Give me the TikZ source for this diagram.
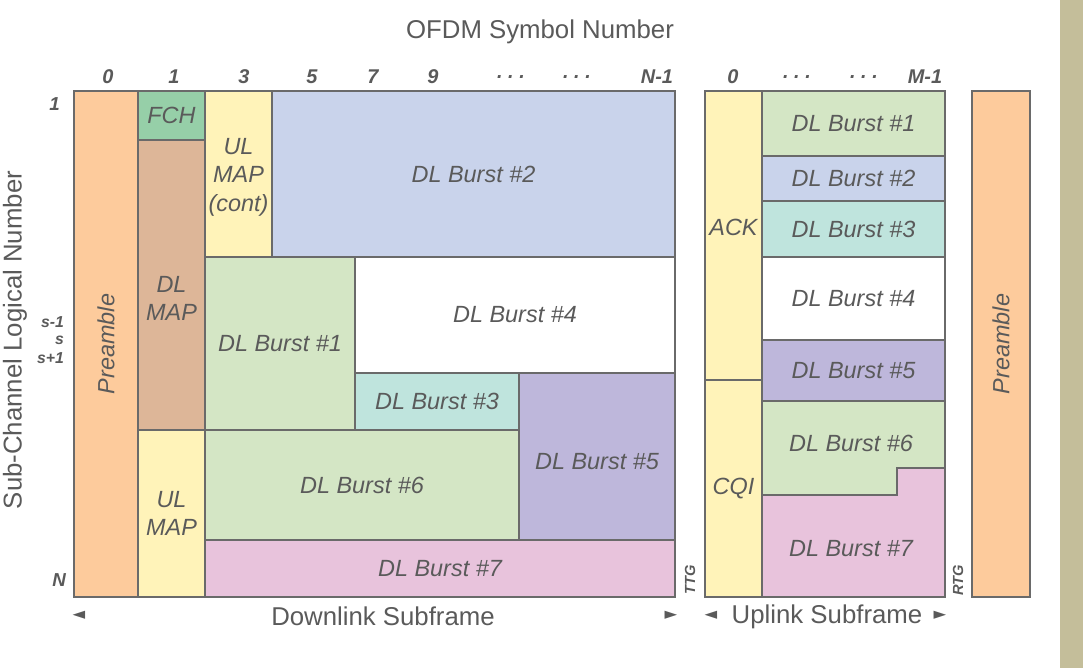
\documentclass[tikz,border=0pt]{standalone}
\usepackage{fontspec}
\setmainfont{Liberation Sans}
\newfontfamily\symfont{DejaVu Sans}
\begin{document}
\begin{tikzpicture}[x=0.03cm, y=-0.03cm,
    cell/.style={draw=framegray, line width=1.2pt},
    lbl/.style={font=\fontsize{20}{24}\selectfont\itshape, text=txtgray, align=center},
    idx/.style={font=\fontsize{17}{18}\selectfont\bfseries\itshape, text=txtgray},
    sub/.style={font=\fontsize{13.5}{14}\selectfont\bfseries\itshape, text=txtgray, anchor=east},
    gap/.style={font=\fontsize{12.5}{12}\selectfont\bfseries\itshape, text=txtgray, rotate=90},
    head/.style={font=\fontsize{22}{24}\selectfont, text=txtgray},
    tip/.style={font=\fontsize{14}{14}\selectfont\symfont, text=txtgray}]
        \definecolor{framegray}{HTML}{6A6A6A}
        \definecolor{txtgray}{HTML}{5A5A5A}
        \definecolor{preorange}{HTML}{FDCB9C}
        \definecolor{fchgreen}{HTML}{96CFA8}
        \definecolor{maptan}{HTML}{DDB698}
        \definecolor{mapyellow}{HTML}{FFF3B9}
        \definecolor{burstblue}{HTML}{C9D3EB}
        \definecolor{burstgreen}{HTML}{D4E6C5}
        \definecolor{burstteal}{HTML}{BFE4DD}
        \definecolor{burstpurple}{HTML}{BEB7DB}
        \definecolor{burstpink}{HTML}{E8C3DC}
        \definecolor{sidebar}{HTML}{C4BE9A}

        \useasboundingbox (0,0) rectangle (1083,668);
        \fill[sidebar] (1060,0) rectangle (1083,668);

        \node[head] (ofdm) at (540,32) {OFDM Symbol Number};
        \node[head, rotate=90] (subch) at (15,340) {Sub-Channel Logical Number};

        \draw[cell, fill=preorange] (74,91) rectangle (138,597) node[midway, lbl, rotate=90] (pre) {Preamble};
        \draw[cell, fill=fchgreen] (138,91) rectangle (205,140) node[midway, lbl] (fch) {FCH};
        \draw[cell, fill=maptan] (138,140) rectangle (205,430) node[midway, lbl, yshift=-0.4cm] (dlmap) {DL\\MAP};
        \draw[cell, fill=mapyellow] (138,430) rectangle (205,597) node[midway, lbl] (ulmap) {UL\\MAP};
        \draw[cell, fill=mapyellow] (205,91) rectangle (272,257) node[midway, lbl, yshift=-0.1cm] (ulcont) {UL\\MAP\\(cont)};
        \draw[cell, fill=burstblue] (272,91) rectangle (675,257) node[midway, lbl] (dltwo) {DL Burst \#2};
        \draw[cell, fill=burstgreen] (205,257) rectangle (355,430) node[midway, lbl] (dlone) {DL Burst \#1};
        \draw[cell, fill=white] (355,257) rectangle (675,373) node[midway, lbl] (dlfour) {DL Burst \#4};
        \draw[cell, fill=burstteal] (355,373) rectangle (519,430) node[midway, lbl] (dlthree) {DL Burst \#3};
        \draw[cell, fill=burstpurple] (519,373) rectangle (675,540) node[midway, lbl, yshift=-0.15cm] (dlfive) {DL Burst \#5};
        \draw[cell, fill=burstgreen] (205,430) rectangle (519,540) node[midway, lbl] (dlsix) {DL Burst \#6};
        \draw[cell, fill=burstpink] (205,540) rectangle (675,597) node[midway, lbl] (dlseven) {DL Burst \#7};

        \draw[cell, fill=mapyellow] (705,91) rectangle (762,380) node[midway, lbl, yshift=0.25cm] (ack) {ACK};
        \draw[cell, fill=mapyellow] (705,380) rectangle (762,597) node[midway, lbl] (cqi) {CQI};
        \draw[cell, fill=burstgreen] (762,91) rectangle (945,156) node[midway, lbl] (ulone) {DL Burst \#1};
        \draw[cell, fill=burstblue] (762,156) rectangle (945,201) node[midway, lbl] (ultwo) {DL Burst \#2};
        \draw[cell, fill=burstteal] (762,201) rectangle (945,257) node[midway, lbl] (ulthree) {DL Burst \#3};
        \draw[cell, fill=white] (762,257) rectangle (945,340) node[midway, lbl] (ulfour) {DL Burst \#4};
        \draw[cell, fill=burstpurple] (762,340) rectangle (945,401) node[midway, lbl] (ulfive) {DL Burst \#5};
        \draw[cell, fill=burstgreen] (762,401) -- (945,401) -- (945,468) -- (897,468) -- (897,495) -- (762,495) -- cycle;
        \node[lbl] (ulsix) at (851,443) {DL Burst \#6};
        \draw[cell, fill=burstpink] (762,495) -- (897,495) -- (897,468) -- (945,468) -- (945,597) -- (762,597) -- cycle;
        \node[lbl] (ulseven) at (851,549) {DL Burst \#7};

        \draw[cell, fill=preorange] (972,91) rectangle (1030,597) node[midway, lbl, rotate=90] (preright) {Preamble};

        \foreach \xx/\tt in {108/0, 174/1, 244/3, 312/5, 373/7, 433/9, 511/{.\ .\ .}, 577/{.\ .\ .}, 657/N-1, 733/0, 797/{.\ .\ .}, 864/{.\ .\ .}, 925/M-1}
            \node[idx] at (\xx,77) {\tt};

        \node[sub, font=\fontsize{16}{16}\selectfont\bfseries\itshape] (rowone) at (64,104) {1};
        \node[sub] (rowsm) at (68,322) {s-1};
        \node[sub] (rows) at (68,340) {s};
        \node[sub] (rowsp) at (68,358) {s+1};
        \node[sub, font=\fontsize{16}{16}\selectfont\bfseries\itshape] (rown) at (70,580) {N};

        \node[gap] (ttg) at (690,580) {TTG};
        \node[gap] (rtg) at (958,580) {RTG};

        \node[head] (dlsub) at (383,616) {Downlink Subframe};
        \node[tip] (dlleft) at (79,615) {◄};
        \node[tip] (dlright) at (671,615) {►};
        \node[head] (ulsub) at (827,617) {Uplink Subframe};
        \node[tip] (ulleft) at (711,615) {◄};
        \node[tip] (ulright) at (940,615) {►};
    \end{tikzpicture}
\end{document}
